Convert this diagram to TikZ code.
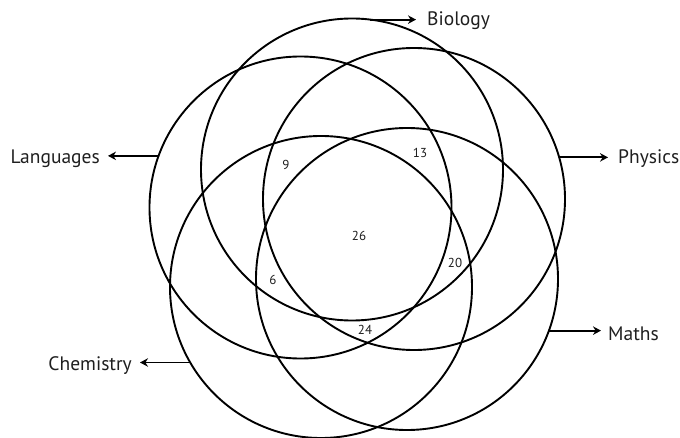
\documentclass[tikz,border=0pt]{standalone}
\usepackage{fontspec}
\setmainfont{PT Sans}
\usetikzlibrary{arrows.meta}
\tikzset{
  venn/.style={circle, draw=black, line width=1.9pt, minimum size=302pt, inner sep=0pt, outer sep=0pt},
  arr/.style={line width=1.8pt, -{Stealth[length=8pt,width=8.5pt]}},
  lbl/.style={inner sep=0pt, text=black!88, font=\fontsize{19.5}{21}\selectfont},
  num/.style={inner sep=0pt, text=black!88, font=\fontsize{13}{14}\selectfont}
}
\begin{document}
\begin{tikzpicture}[x=1pt,y=-1pt]
\useasboundingbox (0,0) rectangle (680,438);
\fill[white] (0,0) rectangle (680,438);
% circles
\node[venn] (bio)  at (352,169.5) {};
\node[venn] (phy)  at (414,199)   {};
\node[venn] (mat)  at (407,279)   {};
\node[venn] (che)  at (321,287)   {};
\node[venn] (lan)  at (300.5,207.5) {};
% arrow tips
\coordinate (biotip) at (416,0);
\coordinate (phytip) at (608,0);
\coordinate (mattip) at (601,0);
\coordinate (chetip) at (140,0);
\coordinate (lantip) at (108,0);
% arrows
\draw[arr] (bio.83.2)  -- (bio.83.2 -| biotip);
\draw[arr] (phy.16.1)  -- (phy.16.1 -| phytip);
\draw[arr] (mat.-20.95) -- (mat.-20.95 -| mattip);
\draw[arr] (che.210.2) -- (che.210.2 -| chetip);
\draw[arr] (lan.160.4) -- (lan.160.4 -| lantip);
% labels
\node[lbl, anchor=base west] (biol) at (427,25.5) {Biology};
\node[lbl, anchor=base west] (phyl) at (618,164) {Physics};
\node[lbl, anchor=base west] (matl) at (608,340) {Maths};
\node[lbl, anchor=base east] (chel) at (132,370) {Chemistry};
\node[lbl, anchor=base east] (lanl) at (100,164) {Languages};
% numbers
\node[num] (n9)  at (286,165) {9};
\node[num] (n13) at (420,153) {13};
\node[num] (n26) at (359,236) {26};
\node[num] (n20) at (455,263) {20};
\node[num] (n6)  at (273,280) {6};
\node[num] (n24) at (365,330) {24};
\end{tikzpicture}
\end{document}
